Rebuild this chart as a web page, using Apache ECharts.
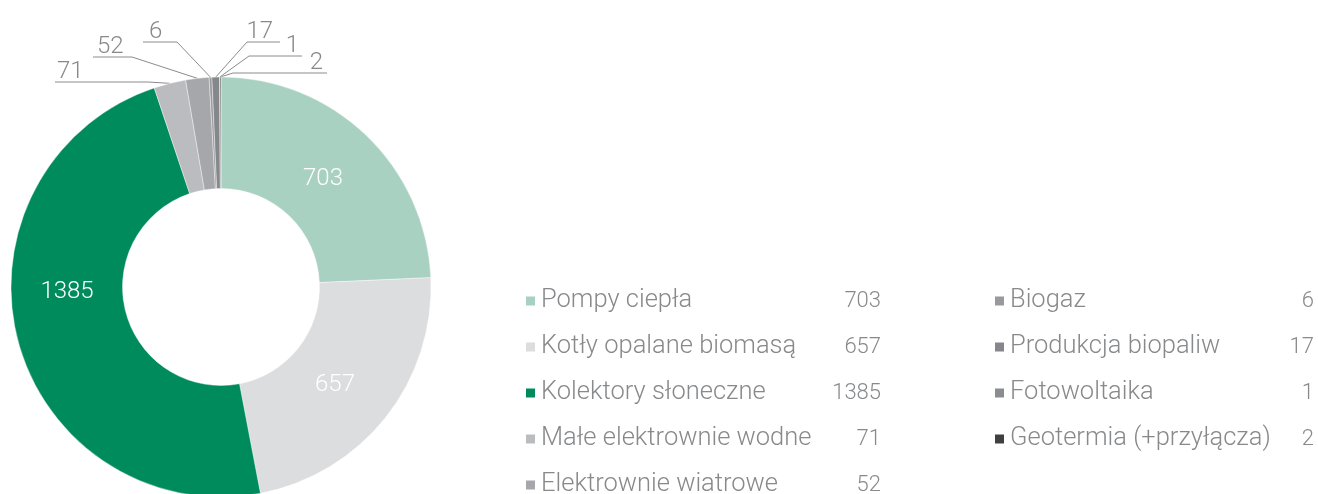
<!DOCTYPE html>
<html>
<head>
<meta charset="utf-8">
<script src="https://cdn.jsdelivr.net/npm/echarts@6/dist/echarts.min.js"></script>
<style>
html,body{margin:0;padding:0;background:#fff;}
#c{width:1318px;height:494px;}
</style>
</head>
<body>
<div id="c"></div>
<script>
const categories = ['Pompy ciepła','Kotły opalane biomasą','Kolektory słoneczne','Małe elektrownie wodne','Elektrownie wiatrowe','Biogaz','Produkcja biopaliw','Fotowoltaika','Geotermia (+przyłącza)'];
const values = [703, 657, 1385, 71, 52, 6, 17, 1, 2];
const colors = ['#a9d1c1','#dcdddf','#008b5c','#bbbcbf','#a6a7ab','#98999c','#86878a','#8b8c8f','#404040'];
const legendLeft = categories.slice(0, 5);
const legendRight = categories.slice(5);

// label placement (style/layout only)
const labelPlacement = [
  {inside:true, x:323, y:179},
  {inside:true, x:335, y:385},
  {inside:true, x:67, y:292},
  {side:'left', lineY:82, elbowX:148, farX:55, textX:57},
  {side:'left', lineY:57, elbowX:132, farX:93, textX:97},
  {side:'left', lineY:42, elbowX:177, farX:143, textX:149},
  {side:'right', lineY:42, elbowX:247, farX:280, textX:273},
  {side:'right', lineY:56, elbowX:249, farX:302, textX:299},
  {side:'right', lineY:73, elbowX:233, farX:327, textX:323}
];

const FONT = 'Roboto';
const GREY = '#88898b';

const chart = echarts.init(document.getElementById('c'));

function legendFmt() {
  return function (name) {
    const v = values[categories.indexOf(name)];
    return '{n|' + name + '}{v|' + v + '}';
  };
}
function legendStyle(nameW, valW) {
  return {
    fontSize: 25.5, lineHeight: 30, color: GREY, fontFamily: FONT, fontWeight: 300,
    rich: {
      n: {width: nameW, fontSize: 25.5, color: GREY, fontFamily: FONT, fontWeight: 300, lineHeight: 30},
      v: {width: valW, align: 'right', fontSize: 22, color: GREY, fontFamily: FONT, fontWeight: 300, lineHeight: 30}
    }
  };
}

const data = values.map(function (v, i) {
  const inside = i < 3;
  return {
    name: categories[i],
    value: v,
    itemStyle: {color: colors[i]},
    label: inside ? {
      show: true, position: 'inside', color: '#ffffff', fontSize: 24, fontFamily: FONT, fontWeight: 300,
      formatter: '{c}'
    } : {
      show: true, position: 'outside', color: GREY, fontSize: 24, fontFamily: FONT, fontWeight: 300,
      formatter: '{c}'
    },
    labelLine: {show: !inside, lineStyle: {color: '#8c8c8e', width: 1}}
  };
});

chart.setOption({
  animation: false,
  backgroundColor: '#ffffff',
  legend: [
    {
      data: legendLeft, orient: 'vertical', left: 519, top: 281, height: 320,
      icon: 'rect', itemWidth: 11, itemHeight: 11, itemGap: 16,
      selectedMode: false,
      formatter: legendFmt(), textStyle: legendStyle(290, 50)
    },
    {
      data: legendRight, orient: 'vertical', left: 988, top: 281, height: 320,
      icon: 'rect', itemWidth: 11, itemHeight: 11, itemGap: 16,
      selectedMode: false,
      formatter: legendFmt(), textStyle: legendStyle(260, 44)
    }
  ],
  series: [{
    type: 'pie',
    center: [221, 287],
    radius: [98.5, 210],
    startAngle: 90,
    clockwise: true,
    avoidLabelOverlap: false,
    silent: true,
    itemStyle: {borderColor: '#ffffff', borderWidth: 0.4},
    data: data,
    labelLayout: function (p) {
      const L = labelPlacement[p.dataIndex];
      if (L.inside) {
        return {x: L.x, y: L.y, align: 'center', verticalAlign: 'middle'};
      }
      const s = p.labelLinePoints ? p.labelLinePoints[0] : [L.elbowX, L.lineY];
      return {
        x: L.textX, y: L.lineY + 2, align: L.side, verticalAlign: 'bottom',
        labelLinePoints: [s, [L.elbowX, L.lineY], [L.farX, L.lineY]]
      };
    }
  }]
});
</script>
</body>
</html>
